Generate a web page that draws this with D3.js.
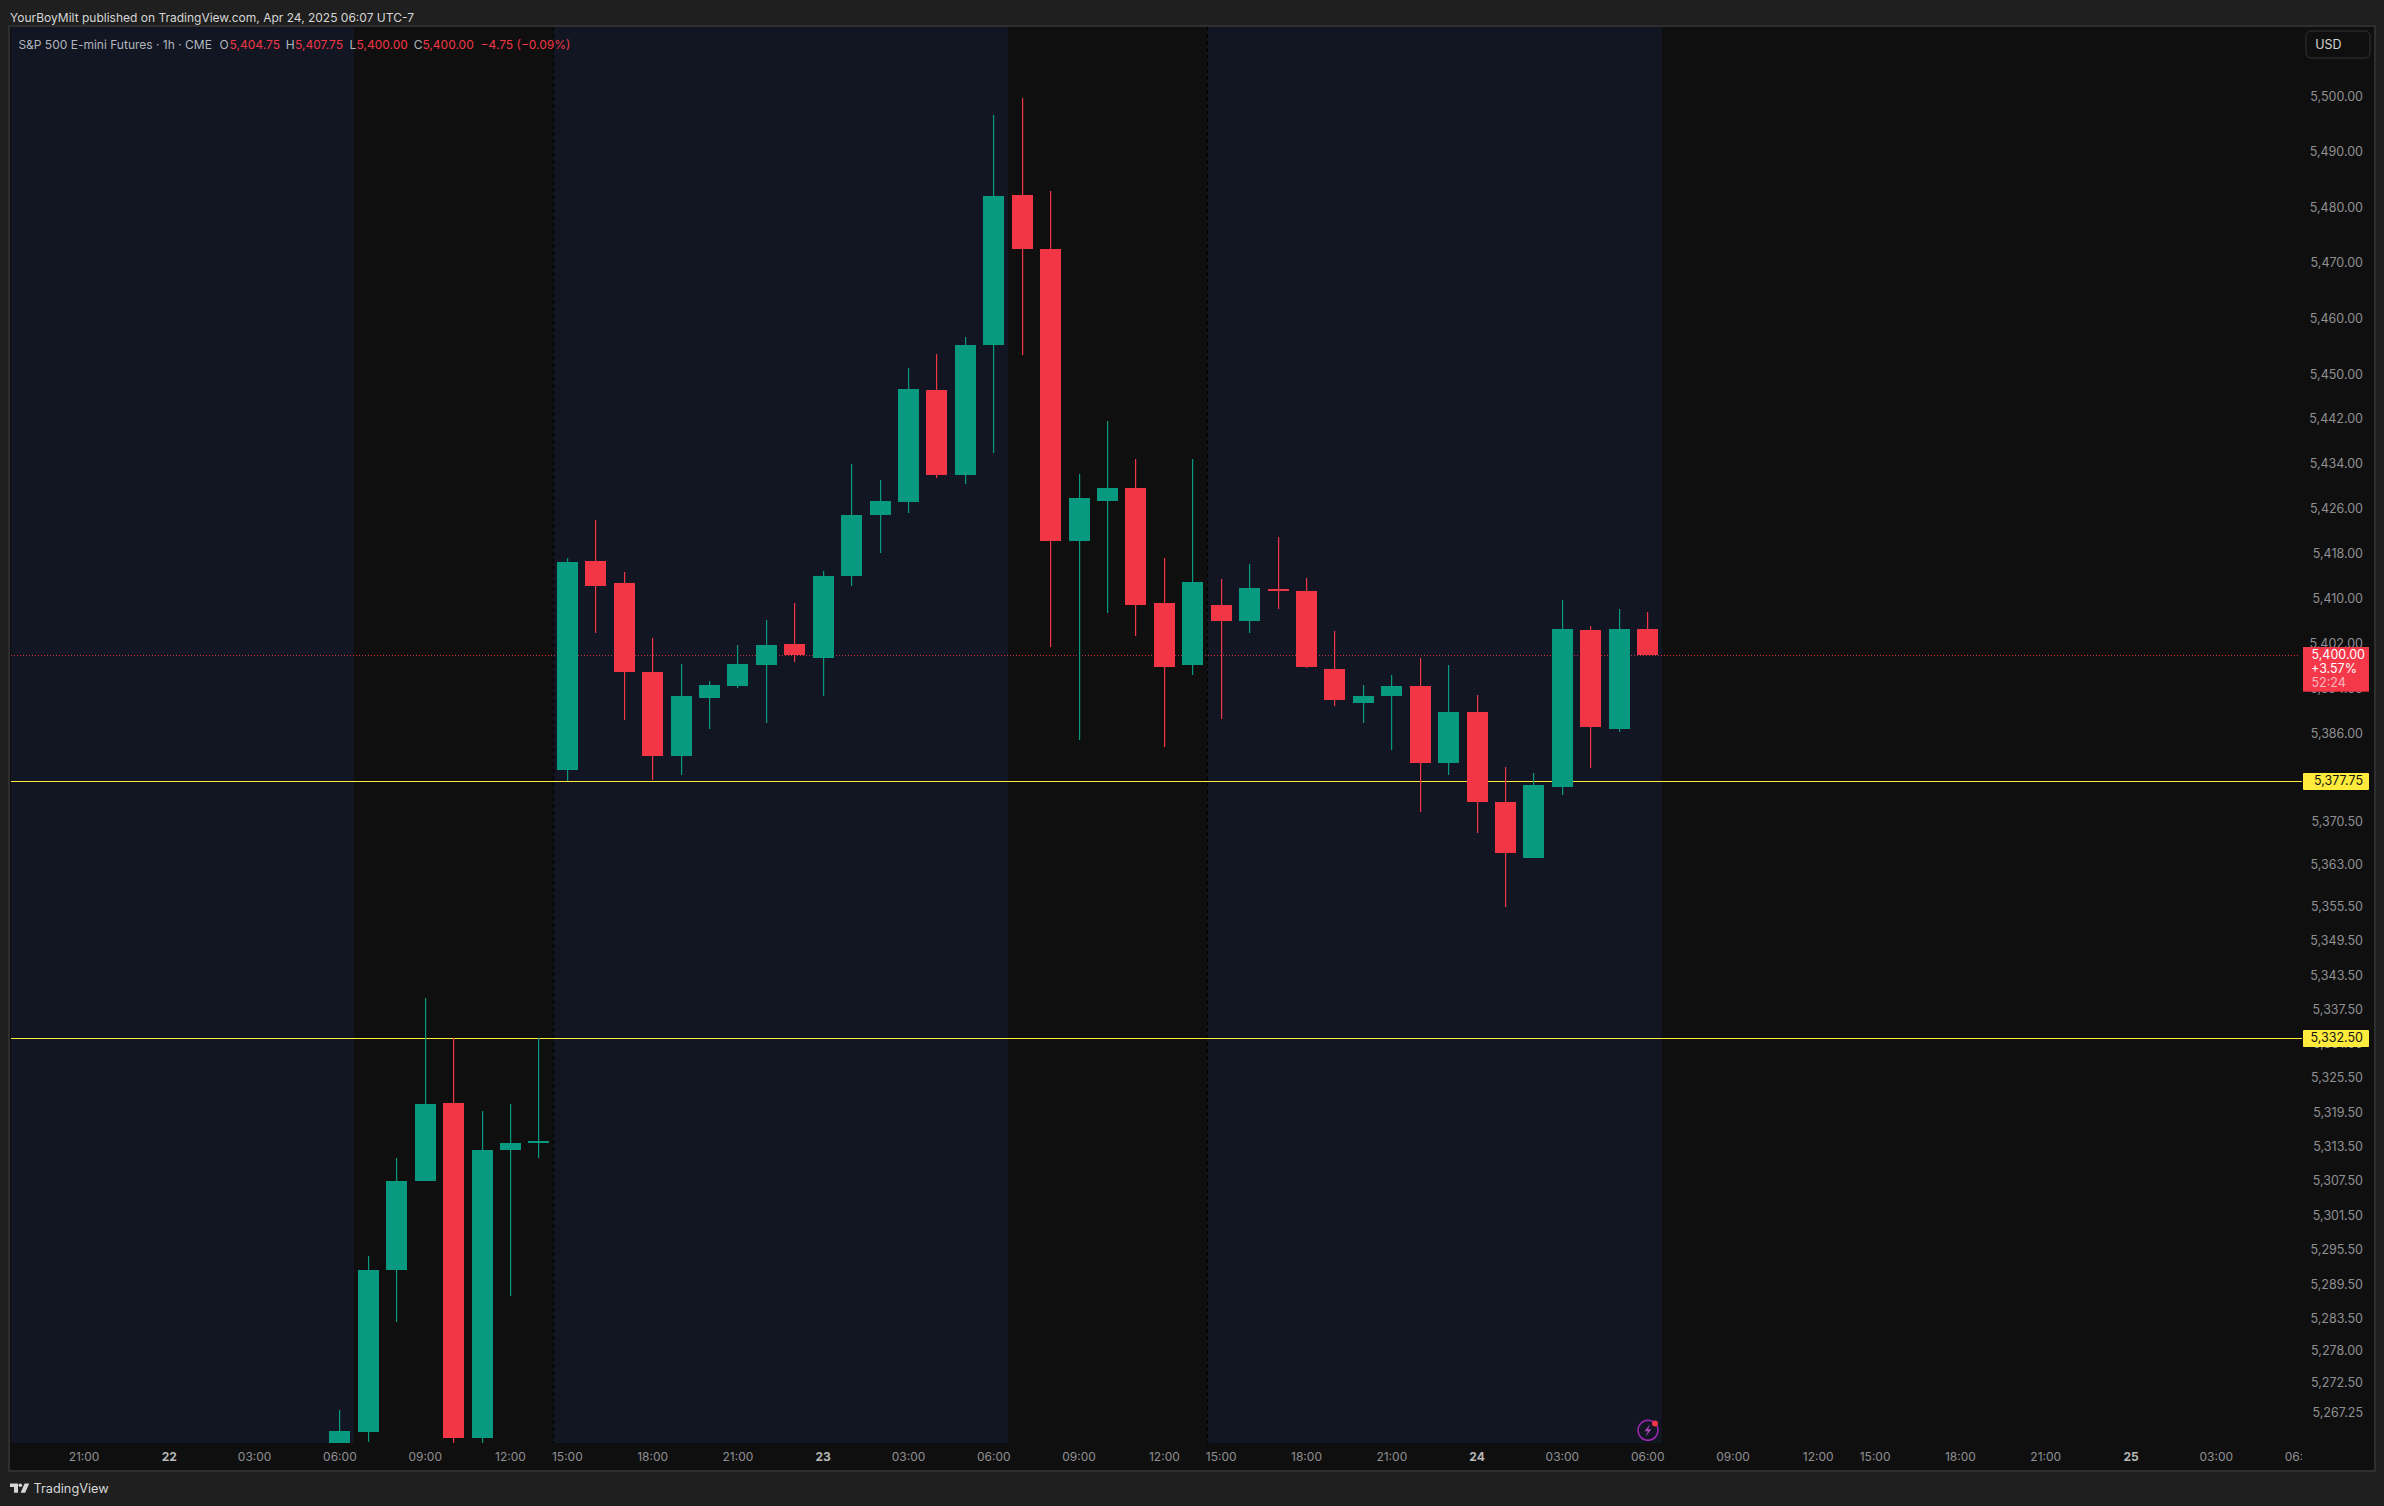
<!DOCTYPE html>
<html>
<head>
<meta charset="utf-8">
<script src="https://cdn.jsdelivr.net/npm/d3@7"></script>
<style>
html,body{margin:0;padding:0;background:#1f1f1f}
svg{display:block}
text{font-family:Inter,"Noto Sans",sans-serif;-webkit-font-smoothing:antialiased}
</style>
</head>
<body>
<svg id="c" width="2384" height="1506"></svg>
<script>
// ---------- data ----------
const barTimes = ["Apr22 06:00","07:00","08:00","09:00","10:00","11:00","12:00","13:00","15:00","16:00","17:00","18:00","19:00","20:00","21:00","22:00","23:00","Apr23 00:00","01:00","02:00","03:00","04:00","05:00","06:00","07:00","08:00","09:00","10:00","11:00","12:00","13:00","15:00","16:00","17:00","18:00","19:00","20:00","21:00","22:00","23:00","Apr24 00:00","01:00","02:00","03:00","04:00","05:00","06:00"];
const opens  = [5260.5,5264,5292,5307.5,5321.25,5263,5313,5314.25,5379.75,5416.75,5412.75,5397,5382.25,5392.5,5394.5,5398.25,5402,5399.5,5414,5425,5427.25,5447.25,5432,5455.25,5482.25,5472.5,5420.25,5427.5,5429.75,5409.25,5398.25,5409,5406,5411.75,5411.5,5397.5,5391.5,5392.75,5394.5,5381,5390,5374,5364.25,5376.75,5404.5,5387,5404.75];
const highs  = [5267.75,5294.5,5311.5,5339.5,5332.5,5319.75,5321,5332.5,5417.25,5424,5414.75,5403,5398.5,5395.5,5401.75,5406.25,5409.25,5415,5434,5431.25,5451.25,5453.75,5456.75,5496.75,5499.75,5483,5432.25,5441.75,5435,5417.25,5435,5413.5,5416.25,5421,5413.75,5404.25,5394.75,5396.5,5399.5,5398.25,5393,5380.25,5379.25,5409.75,5405.25,5408.25,5407.75];
const lows   = [5259.75,5262.25,5283,5307.5,5262,5262,5287.5,5311.5,5377.75,5404,5388.5,5378,5378.75,5387,5394.25,5388,5398.75,5392.75,5412.25,5418.25,5425.25,5431.5,5430.5,5436,5453.5,5401.5,5385,5407.5,5403.5,5383.75,5396.5,5388.75,5404,5408.25,5397.75,5391,5388,5383.25,5372.25,5378.75,5368.5,5355.5,5364.25,5375.25,5380,5386.5,5400];
const closes = [5264.25,5292,5307.5,5321,5263,5313,5314.25,5314.5,5416.5,5412.25,5397,5382.25,5392.75,5394.75,5398.5,5401.75,5400,5414,5425,5427.5,5447.5,5432,5455.25,5482,5472.5,5420.25,5428,5429.75,5409,5398,5413,5406,5412,5411.5,5398,5392,5392.75,5394.5,5381,5390,5374,5365,5377,5404.75,5387.25,5404.75,5400];

const priceTicks = [5500,5490,5480,5470,5460,5450,5442,5434,5426,5418,5410,5402,5394,5386,5378,5370.5,5363,5355.5,5349.5,5343.5,5337.5,5331.5,5325.5,5319.5,5313.5,5307.5,5301.5,5295.5,5289.5,5283.5,5278,5272.5,5267.25];
const timeTickSlots  = [-9,-6,-3,0,3,6,8,11,14,17,20,23,26,29,31,34,37,40,43,46,49,52,54,57,60,63,66,69];
const timeTickLabels = ["21:00","22","03:00","06:00","09:00","12:00","15:00","18:00","21:00","23","03:00","06:00","09:00","12:00","15:00","18:00","21:00","24","03:00","06:00","09:00","12:00","15:00","18:00","21:00","25","03:00","06:00"];
const dayLabels = ["22","23","24","25"];
const levels = [5377.75,5332.5];
const lastPrice = 5400;
const sessionSlots = [[-13,0.5,"rth"],[0.5,7.5,"eth"],[7.5,23.5,"rth"],[23.5,30.5,"eth"],[30.5,46.5,"rth"],[46.5,72,"eth"]];
const sessionBreaks = [7.5,30.5];
const titleText = "YourBoyMilt published on TradingView.com, Apr 24, 2025 06:07 UTC-7";
const legendParts = [
 ["S&P 500 E-mini Futures · 1h · CME",18.4,"#b2b5be"],
 ["O",219.4,"#b2b5be"],["5,404.75",229.6,"#f23645"],
 ["H",285.7,"#b2b5be"],["5,407.75",295,"#f23645"],
 ["L",349.5,"#b2b5be"],["5,400.00",356.6,"#f23645"],
 ["C",413.8,"#b2b5be"],["5,400.00",422.4,"#f23645"],
 ["−4.75 (−0.09%)",480.6,"#f23645"]];

// ---------- layout ----------
const RED="#f23645", GREEN="#089981", YEL="#ffeb3b";
const pane={l:11,t:27,r:2302,b:1443}, outer={l:10,t:27,r:2374,b:1470};
const x=d3.scaleLinear().domain([0,46]).range([339.9,1647.68]);
const y=d3.scaleLog().domain([5400,5332.5]).range([655.3,1038.3]);
const fmt=d3.format(",.2f");
const svg=d3.select("#c");
const defs=svg.append("defs");
defs.append("clipPath").attr("id","pane").append("rect").attr("x",pane.l).attr("y",pane.t).attr("width",pane.r-pane.l).attr("height",pane.b-pane.t);
defs.append("clipPath").attr("id","tx").append("rect").attr("x",pane.l).attr("y",pane.b).attr("width",pane.r-pane.l).attr("height",outer.b-pane.b);

svg.append("rect").attr("width",2384).attr("height",1506).attr("fill","#1f1f1f");
svg.append("rect").attr("x",outer.l-1).attr("y",outer.t-1).attr("width",outer.r-outer.l+2).attr("height",outer.b-outer.t+2).attr("fill","#0f0f0f").attr("stroke","#2e2e2e").attr("stroke-width",2);

const paneG=svg.append("g").attr("clip-path","url(#pane)");
paneG.selectAll("rect.band").data(sessionSlots).join("rect").attr("class","band")
 .attr("x",d=>Math.round(x(d[0]))).attr("y",pane.t)
 .attr("width",d=>Math.round(x(d[1]))-Math.round(x(d[0]))).attr("height",pane.b-pane.t)
 .attr("fill",d=>d[2]==="rth"?"#111622":"#0f0f0f");
paneG.selectAll("line.brk").data(sessionBreaks).join("line").attr("class","brk")
 .attr("x1",d=>Math.round(x(d))+.5).attr("x2",d=>Math.round(x(d))+.5).attr("y1",pane.t).attr("y2",pane.b)
 .attr("stroke","#000").attr("stroke-width",1.2).attr("stroke-dasharray","4 3");

paneG.append("line").attr("x1",pane.l).attr("x2",2300).attr("y1",Math.floor(y(lastPrice))+.5).attr("y2",Math.floor(y(lastPrice))+.5)
 .attr("stroke",RED).attr("stroke-width",1).attr("stroke-dasharray","1 2").attr("stroke-opacity",.85);
paneG.selectAll("line.lvl").data(levels).join("line").attr("class","lvl")
 .attr("x1",pane.l-1).attr("x2",pane.r).attr("y1",d=>Math.floor(y(d))+.5).attr("y2",d=>Math.floor(y(d))+.5)
 .attr("stroke",YEL).attr("stroke-width",1.2);

const bars=d3.range(barTimes.length);
const col=i=>closes[i]>=opens[i]?GREEN:RED;
const left=i=>Math.round(x(i)-10.5);
paneG.selectAll("rect.wick").data(bars).join("rect").attr("class","wick")
 .attr("x",i=>left(i)+10).attr("width",1.2)
 .attr("y",i=>Math.round(y(highs[i]))).attr("height",i=>Math.round(y(lows[i]))-Math.round(y(highs[i])))
 .attr("fill",col);
paneG.selectAll("rect.body").data(bars).join("rect").attr("class","body")
 .attr("x",left).attr("width",21)
 .attr("y",i=>Math.round(y(Math.max(opens[i],closes[i]))))
 .attr("height",i=>Math.max(1,Math.round(y(Math.min(opens[i],closes[i])))-Math.round(y(Math.max(opens[i],closes[i])))))
 .attr("fill",col);

// ---------- axes ----------
const yAxis=svg.append("g").attr("transform","translate(2363,-0.8)")
 .call(d3.axisLeft(y).tickValues(priceTicks).tickSize(0).tickFormat(fmt));
yAxis.select(".domain").remove();
yAxis.selectAll("text").attr("x",0).attr("dy","0.35em").attr("text-anchor","end")
 .attr("fill","#8f9094").style("font-size","12.5px").style("font-family","Inter,sans-serif");

const xAxis=svg.append("g").attr("clip-path","url(#tx)");
const xAxisInner=xAxis.append("g").attr("transform",`translate(-0.5,${pane.b})`)
 .call(d3.axisBottom(x).tickValues(timeTickSlots).tickSize(0).tickFormat((d,i)=>timeTickLabels[i]));
xAxisInner.select(".domain").remove();
xAxisInner.selectAll("text").attr("y",14).attr("dy","0.35em")
 .attr("fill",(d,i)=>dayLabels.includes(timeTickLabels[i])?"#b8b8b8":"#8f9094")
 .style("font-weight",(d,i)=>dayLabels.includes(timeTickLabels[i])?"700":"400")
 .style("font-size","12px").style("font-family","Inter,sans-serif");

// ---------- price tags ----------
const tags=svg.append("g");
levels.forEach(v=>{
 const c=Math.floor(y(v));
 tags.append("rect").attr("x",2303).attr("y",c-8).attr("width",66).attr("height",17).attr("rx",1).attr("fill",YEL);
 tags.append("text").attr("x",2363).attr("y",c).attr("dy","0.35em").attr("text-anchor","end").attr("fill","#151515")
  .style("font-size","12.5px").text(fmt(v));
});
tags.append("rect").attr("x",2303).attr("y",647).attr("width",66).attr("height",44.7).attr("fill","#f5374a");
[[fmt(lastPrice),654.3,"#fff"],["+3.57%",668.8,"#fff"],["52:24",682.6,"#fbb8bf"]].forEach(t=>{
 tags.append("text").attr("x",t[0]==="+3.57%"?2311:2311.5).attr("y",t[1]).attr("dy","0.35em").attr("fill",t[2])
  .style("font-size","12.5px").text(t[0]);
});
// USD button
svg.append("rect").attr("x",2306).attr("y",31).attr("width",64).attr("height",27).attr("rx",5).attr("fill","#0f0f0f").attr("stroke","#333").attr("stroke-width",1);
svg.append("text").attr("x",2315.3).attr("y",44.7).attr("dy","0.35em").attr("fill","#d4d4d4").style("font-size","12.5px").text("USD");

// ---------- header ----------
svg.append("text").attr("x",10).attr("y",17.3).attr("dy","0.35em").attr("fill","#d6d6d6").style("font-size","12px").text(titleText);
svg.append("g").selectAll("text").data(legendParts).join("text")
 .attr("x",d=>d[1]).attr("y",44.7).attr("dy","0.35em").attr("fill",d=>d[2]).style("font-size","12px").text(d=>d[0]);

// ---------- footer ----------
const logo=svg.append("g").attr("fill","#d6d6d6");
logo.append("path").attr("d","M10 1483.5h8v9.2h-4v-5.6h-4z");
logo.append("circle").attr("cx",20.3).attr("cy",1485.3).attr("r",1.8);
logo.append("path").attr("d","M24.6 1483.5h4.6l-4 9.2h-4.6z");
svg.append("text").attr("x",33.5).attr("y",1488.3).attr("dy","0.35em").attr("fill","#d6d6d6").style("font-size","12.75px").text("TradingView");

// ---------- bolt icon ----------
const ic=svg.append("g").attr("transform",`translate(${Math.round(x(46))},1430.3)`);
ic.append("circle").attr("r",10).attr("fill","none").attr("stroke","#9c27b0").attr("stroke-width",1.5);
ic.append("path").attr("d","M2.5 -6.5L-3.5 1H0L-2.5 6.5L3.5 -1H0Z").attr("fill","#ab47bc");
ic.append("circle").attr("cx",7).attr("cy",-6.7).attr("r",3).attr("fill","#f23645");
</script>
</body>
</html>
